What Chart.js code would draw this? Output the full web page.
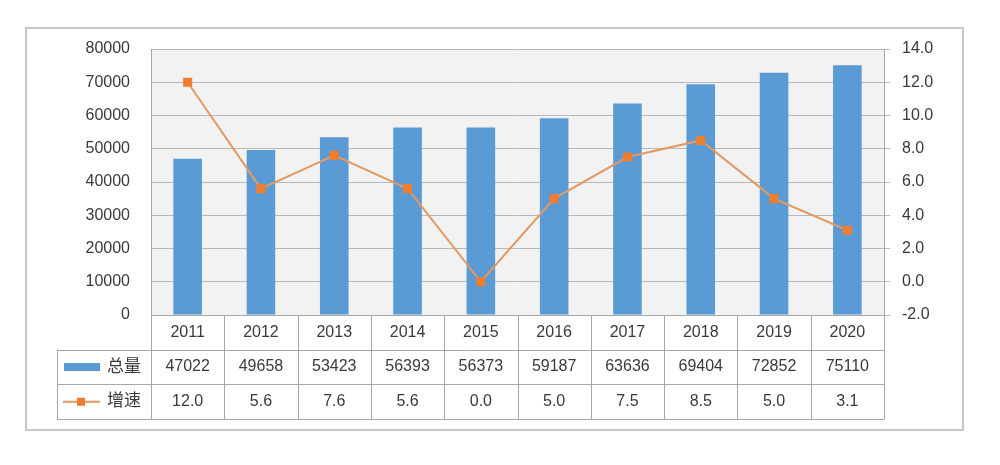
<!DOCTYPE html>
<html><head><meta charset="utf-8">
<script src="https://cdn.jsdelivr.net/npm/chart.js@4/dist/chart.umd.min.js"></script>
<style>html,body{margin:0;padding:0;background:#fff}#wrap{width:1000px;height:465px}</style>
</head><body><div id="wrap"><canvas id="c" width="1000" height="465"></canvas></div>
<script>
const categories = ['2011','2012','2013','2014','2015','2016','2017','2018','2019','2020'];
const totalValues = [47022,49658,53423,56393,56373,59187,63636,69404,72852,75110];
const growthValues = [12.0,5.6,7.6,5.6,0.0,5.0,7.5,8.5,5.0,3.1];
const seriesNames = ['总量','增速'];
const leftTicks = [0,10000,20000,30000,40000,50000,60000,70000,80000];
const rightTicks = [-2.0,0.0,2.0,4.0,6.0,8.0,10.0,12.0,14.0];

const FONT = '"Liberation Sans", "Noto Sans CJK SC", sans-serif';
const TXT = '#3a3a3a';
const BLUE = '#5b9bd5';
const ORANGE = '#ed7d31';
const GRID = '#b8b8b8';
const TABLE = '#a6a6a6';

const framePlugin = {
  id: 'frame',
  beforeDraw(chart) {
    const ctx = chart.ctx, a = chart.chartArea;
    ctx.save();
    ctx.fillStyle = '#fff';
    ctx.fillRect(0, 0, chart.width, chart.height);
    ctx.strokeStyle = '#c8c8c8';
    ctx.lineWidth = 2;
    ctx.strokeRect(26, 28, 937, 402);
    ctx.fillStyle = '#f2f2f2';
    ctx.fillRect(a.left, a.top, a.right - a.left, a.bottom - a.top);
    ctx.restore();
  },
  afterDraw(chart) {
    const ctx = chart.ctx, a = chart.chartArea, xs = chart.scales.x;
    const rowH = 34.7;
    const r0 = a.bottom, r1 = r0 + rowH, r2 = r1 + rowH, r3 = r2 + rowH;
    const legL = 57;
    const n = categories.length;
    const colW = (a.right - a.left) / n;
    ctx.save();
    ctx.strokeStyle = TABLE;
    ctx.lineWidth = 1;
    ctx.beginPath();
    ctx.moveTo(a.left + 0.5, a.top); ctx.lineTo(a.left + 0.5, r3);
    ctx.moveTo(a.right + 0.5, a.top); ctx.lineTo(a.right + 0.5, r3);
    for (let i = 1; i < n; i++) {
      const x = Math.round(a.left + i * colW) + 0.5;
      ctx.moveTo(x, r0); ctx.lineTo(x, r3);
    }
    ctx.moveTo(a.left, Math.round(r0) + 0.5); ctx.lineTo(a.right, Math.round(r0) + 0.5);
    [r1, r2, r3].forEach(y => { ctx.moveTo(legL, Math.round(y) + 0.5); ctx.lineTo(a.right, Math.round(y) + 0.5); });
    ctx.moveTo(legL + 0.5, r1); ctx.lineTo(legL + 0.5, r3);
    ctx.stroke();

    ctx.fillStyle = TXT;
    ctx.font = '16px ' + FONT;
    ctx.textAlign = 'center';
    ctx.textBaseline = 'middle';
    for (let i = 0; i < n; i++) {
      const x = xs.getPixelForValue(i);
      ctx.fillText(categories[i], x, (r0 + r1) / 2);
      ctx.fillText(String(totalValues[i]), x, (r1 + r2) / 2);
      ctx.fillText(growthValues[i].toFixed(1), x, (r2 + r3) / 2);
    }
    const y1 = (r1 + r2) / 2, y2 = (r2 + r3) / 2;
    ctx.fillStyle = BLUE;
    ctx.fillRect(64, y1 - 4, 36, 8);
    ctx.strokeStyle = '#e8945a';
    ctx.lineWidth = 2;
    ctx.beginPath(); ctx.moveTo(63, y2); ctx.lineTo(100, y2); ctx.stroke();
    ctx.fillStyle = ORANGE;
    ctx.fillRect(77, y2 - 4, 8, 8);
    ctx.fillStyle = TXT;
    ctx.font = '17px ' + FONT;
    ctx.textAlign = 'left';
    ctx.fillText(seriesNames[0], 107, y1);
    ctx.fillText(seriesNames[1], 107, y2);
    ctx.restore();
  }
};

new Chart(document.getElementById('c'), {
  data: {
    labels: categories,
    datasets: [
      {
        type: 'line', label: seriesNames[1], data: growthValues, yAxisID: 'y1', order: 1,
        borderColor: '#e39a62', borderWidth: 2, pointStyle: 'rect', pointRadius: 5,
        pointBackgroundColor: ORANGE, pointBorderColor: ORANGE, tension: 0
      },
      {
        type: 'bar', label: seriesNames[0], data: totalValues, yAxisID: 'y', order: 2,
        backgroundColor: BLUE, categoryPercentage: 1, barPercentage: 0.39
      }
    ]
  },
  plugins: [framePlugin],
  options: {
    responsive: false, animation: false,
    layout: { padding: { left: 25, right: 37, top: 49, bottom: 150 } },
    plugins: { legend: { display: false }, tooltip: { enabled: false } },
    scales: {
      x: { display: false, offset: true },
      y: {
        position: 'left', min: 0, max: 80000,
        afterFit(s) { s.width = 126; },
        afterBuildTicks(s) { s.ticks = leftTicks.map(v => ({ value: v })); },
        ticks: { color: TXT, font: { family: FONT, size: 16 }, padding: 21, callback: v => String(v) },
        grid: { color: GRID, drawTicks: false, lineWidth: 1 },
        border: { display: false }
      },
      y1: {
        position: 'right', min: -2, max: 14,
        afterFit(s) { s.width = 79; },
        afterBuildTicks(s) { s.ticks = rightTicks.map(v => ({ value: v })); },
        ticks: { color: TXT, font: { family: FONT, size: 16 }, padding: 12, callback: v => Number(v).toFixed(1) },
        grid: { drawOnChartArea: false, color: GRID, tickLength: 6 },
        border: { display: false }
      }
    }
  }
});
</script></body></html>
